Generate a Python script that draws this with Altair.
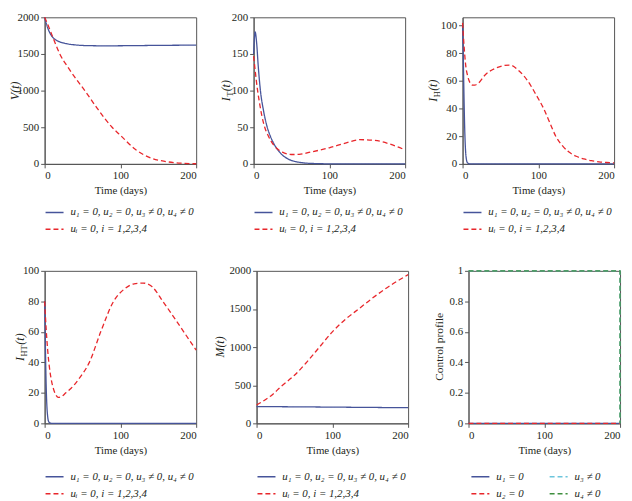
import altair as alt
import pandas as pd

FONT = "Liberation Serif, Times New Roman, Times, serif"
TXT = "#231f20"
FRAME = "#555555"
BLUE = "#46549a"
RED = "#e8262b"
CYAN = "#6cc5dc"
GREEN = "#3f8f3f"

LAB_A = "u₁ = 0, u₂ = 0, u₃ ≠ 0, u₄ ≠ 0"
LAB_B = "uᵢ = 0, i = 1,2,3,4"
LAB_U1 = "u₁ = 0"
LAB_U2 = "u₂ = 0"
LAB_U3 = "u₃ ≠ 0"
LAB_U4 = "u₄ ≠ 0"

# ---- V(t)
v_blue_t = [0, 2, 5, 10, 15, 20, 30, 40, 50, 60, 80, 100, 130, 160, 200]
v_blue_v = [2000, 1920, 1830, 1735, 1690, 1665, 1638, 1624, 1616, 1613, 1611, 1612, 1615, 1618, 1620]
v_red_t = [0, 5, 10, 15, 20, 30, 40, 53, 70, 89, 100, 120, 140, 160, 180, 200]
v_red_v = [2000, 1880, 1750, 1620, 1500, 1330, 1180, 1000, 750, 500, 390, 195, 80, 32, 9, 2]

# ---- I_T(t)
it_blue_t = [0, 1, 2, 4, 6, 9, 13, 18, 22, 27, 32, 36, 45, 54, 65, 80, 100, 200]
it_blue_v = [150, 170, 180, 165, 135, 100, 73, 50, 38, 27, 19, 14, 7, 3.5, 1.5, 0.5, 0.1, 0]
it_red_t = [0, 2, 5, 8, 11, 15, 19, 23, 27, 32, 38, 45, 52, 60, 75, 90, 100, 120, 140, 160, 180, 200]
it_red_v = [147, 128, 102, 82, 65, 49, 39, 31, 25, 20, 16, 13.5, 12.8, 13, 16, 19.5, 22, 28, 33, 32, 27, 19]

# ---- I_H(t)
ih_blue_t = [0, 1, 2, 3, 4, 5, 6, 8, 10, 200]
ih_blue_v = [100, 75, 45, 22, 9, 3.5, 1.2, 0.2, 0, 0]
ih_red_t = [0, 2, 4, 7, 10, 13, 16, 20, 30, 45, 62, 75, 86, 97, 107, 115, 123, 132, 140, 150, 160, 170, 180, 190, 200]
ih_red_v = [102, 85, 72, 63, 58.5, 57, 57, 58, 64.5, 69.5, 71.5, 67, 60, 50, 40, 30, 20, 13, 8.7, 5.5, 3.6, 2.3, 1.5, 1.0, 0.7]

# ---- I_HT(t)
iht_blue_t = [0, 1, 2, 3, 4, 5, 7, 10, 200]
iht_blue_v = [80, 50, 25, 11, 4.5, 1.5, 0.3, 0, 0]
iht_red_t = [0, 2, 4, 6, 9, 12, 15, 18, 22, 28, 35, 45, 59, 74, 91, 105, 118, 130, 142, 156, 170, 185, 200]
iht_red_v = [80, 62, 48, 38, 28, 22, 18.5, 17, 17.5, 20, 23, 29, 40, 60, 80, 88, 91.5, 92, 89.5, 80, 70, 59, 48]

# ---- M(t)
m_blue_t = [0, 50, 100, 150, 200]
m_blue_v = [220, 217, 213, 209, 205]
m_red_t = [0, 10, 20, 33, 50, 66, 83, 100, 118, 136, 150, 165, 180, 200]
m_red_v = [240, 300, 370, 490, 630, 800, 1000, 1200, 1370, 1510, 1620, 1730, 1830, 1950]

# ---- Control profile
u1_t, u1_v = [0, 200], [0, 0]
u2_t, u2_v = [0, 200], [0, 0]
u3_t, u3_v = [0, 200, 200], [1, 1, 0]
u4_t, u4_v = [0, 200, 200], [1, 1, 0]

ONE = pd.DataFrame({"k": [0]})

AX = dict(labelFont=FONT, titleFont=FONT, labelFontSize=11, titleFontSize=11, titleFontWeight="normal",
          grid=False, tickSize=4, domainColor=FRAME, tickColor=FRAME, labelColor=TXT, titleColor=TXT,
          labelPadding=2)


def long(series):
    rows = []
    for lab, ts, vs in series:
        for i, (a, b) in enumerate(zip(ts, vs)):
            rows.append({"t": a, "v": b, "s": lab, "i": i})
    return pd.DataFrame(rows)


def title_layers(pieces, xb, yc):
    total = sum(p[4] for p in pieces)
    y = yc + total / 2
    out = []
    for text, size, italic, shift, wdt in pieces:
        out.append(
            alt.Chart(ONE).mark_text(
                angle=270, align="left", baseline="alphabetic", font=FONT,
                fontSize=size, fontStyle="italic" if italic else "normal", color=TXT,
            ).encode(x=alt.value(xb + shift), y=alt.value(y), text=alt.value(text))
        )
        y -= wdt
    return out


def panel(series, domain_s, colors, dashes, ydom, yvals, title_pieces, title_x,
          w, h, lx, ly, columns=1, col_pad=10, interp="monotone", yfmt="d"):
    df = long(series)
    leg = alt.Legend(
        orient="none", legendX=lx, legendY=ly, title=None, columns=columns,
        symbolType="stroke", symbolSize=330, symbolStrokeWidth=1.5,
        labelFont=FONT, labelFontSize=11, labelFontStyle="italic", labelColor=TXT,
        labelOffset=6, rowPadding=2, columnPadding=col_pad, padding=0,
    )
    base = alt.Chart(df).mark_line(strokeWidth=1.3, interpolate=interp).encode(
        x=alt.X("t:Q", scale=alt.Scale(domain=[0, 200], nice=False),
                axis=alt.Axis(values=[0, 100, 200], title="Time (days)", format="d", titlePadding=4, **AX)),
        y=alt.Y("v:Q", scale=alt.Scale(domain=ydom, nice=False),
                axis=alt.Axis(values=yvals, title=None, format=yfmt, **AX)),
        color=alt.Color("s:N", scale=alt.Scale(domain=domain_s, range=colors), legend=leg),
        strokeDash=alt.StrokeDash("s:N", scale=alt.Scale(domain=domain_s, range=dashes), legend=leg),
        order=alt.Order("i:Q"),
    )
    return alt.layer(base, *title_layers(title_pieces, title_x, h / 2)).properties(width=w, height=h)


SOLID = [1, 0]
DASH = [5, 3]
W = 153
H1 = 148
H2 = 154
LY1 = H1 + 39
LY2 = H2 + 44

p1 = panel([(LAB_A, v_blue_t, v_blue_v), (LAB_B, v_red_t, v_red_v)], [LAB_A, LAB_B], [BLUE, RED], [SOLID, DASH],
           [0, 2000], [0, 500, 1000, 1500, 2000],
           [("V(t)", 12, True, 0, 19)], -26, W, H1, 0, LY1)
p2 = panel([(LAB_A, it_blue_t, it_blue_v), (LAB_B, it_red_t, it_red_v)], [LAB_A, LAB_B], [BLUE, RED], [SOLID, DASH],
           [0, 200], [0, 50, 100, 150, 200],
           [("I", 12, True, 0, 4.5), ("T", 8.5, False, 3, 5.5), ("(t)", 12, True, 0, 11.5)], -24, W, H1, 0, LY1)
p3 = panel([(LAB_A, ih_blue_t, ih_blue_v), (LAB_B, ih_red_t, ih_red_v)], [LAB_A, LAB_B], [BLUE, RED], [SOLID, DASH],
           [0, 106], [0, 20, 40, 60, 80, 100],
           [("I", 12, True, 0, 4.5), ("H", 8.5, False, 3, 6.5), ("(t)", 12, True, 0, 11.5)], -26, W, H1, 0, LY1)
p4 = panel([(LAB_A, iht_blue_t, iht_blue_v), (LAB_B, iht_red_t, iht_red_v)], [LAB_A, LAB_B], [BLUE, RED], [SOLID, DASH],
           [0, 100], [0, 20, 40, 60, 80, 100],
           [("I", 12, True, 0, 4.5), ("HT", 8.5, False, 3, 12), ("(t)", 12, True, 0, 11.5)], -21, W, H2, 0, LY2)
p5 = panel([(LAB_A, m_blue_t, m_blue_v), (LAB_B, m_red_t, m_red_v)], [LAB_A, LAB_B], [BLUE, RED], [SOLID, DASH],
           [0, 2000], [0, 500, 1000, 1500, 2000],
           [("M(t)", 12, True, 0, 21)], -33, W, H2, 0, LY2)
p6 = panel([(LAB_U1, u1_t, u1_v), (LAB_U2, u2_t, u2_v), (LAB_U3, u3_t, u3_v), (LAB_U4, u4_t, u4_v)],
           [LAB_U1, LAB_U2, LAB_U3, LAB_U4], [BLUE, RED, CYAN, GREEN], [SOLID, DASH, DASH, DASH],
           [0, 1], [0, 0.2, 0.4, 0.6, 0.8, 1],
           [("Control profile", 11.5, False, 0, 68)], -26, W, H2, 2, LY2,
           columns=2, col_pad=22, interp="linear", yfmt="~g")


def indep(c):
    return c.resolve_scale(x="independent", y="independent", color="independent", strokeDash="independent").resolve_legend(
        color="independent", strokeDash="independent")


row1 = indep(alt.hconcat(p1, p2, p3, spacing=58, bounds="flush"))
row2 = indep(alt.hconcat(p4, p5, p6, spacing=61, bounds="flush"))

chart = indep(alt.vconcat(row1, row2, spacing=29)).properties(
    padding={"left": 0, "top": 0, "right": 0, "bottom": 0}, background="white"
).configure_view(stroke=FRAME, strokeWidth=1)

chart.save("out.html", embed_options={"renderer": "svg", "actions": False})
